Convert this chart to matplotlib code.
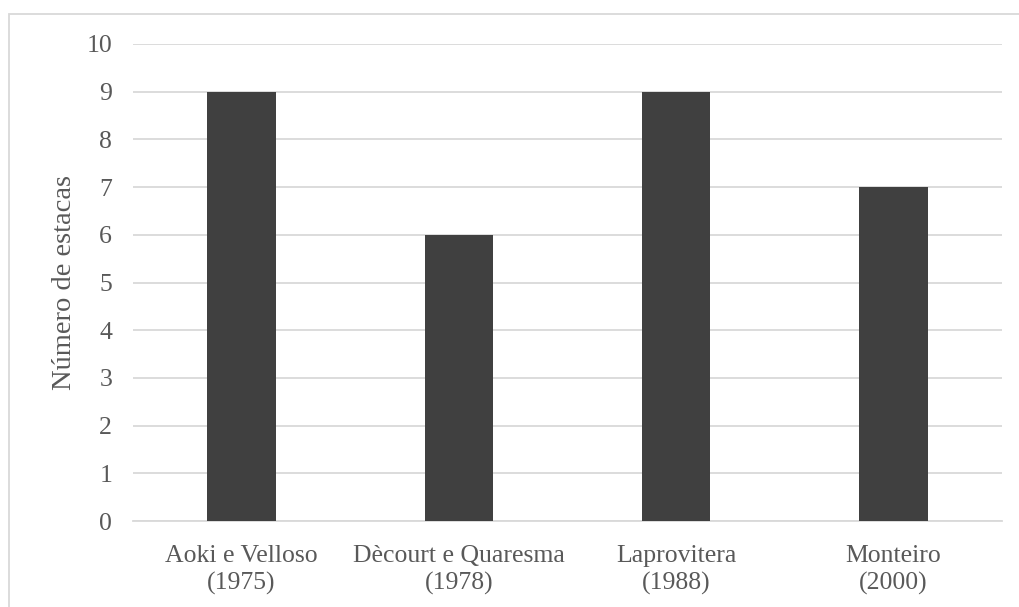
import matplotlib.pyplot as plt
from matplotlib.patches import Rectangle

metodos = ['Aoki e Velloso\n(1975)', 'Dècourt e Quaresma\n(1978)',
           'Laprovitera\n(1988)', 'Monteiro\n(2000)']
estacas = [9, 6, 9, 7]

plt.rcParams['font.family'] = ['Liberation Serif', 'DejaVu Serif']

fig = plt.figure(figsize=(10.2, 6.07), dpi=100)
ax = fig.add_axes([133 / 1020, 1 - 521 / 607, 869 / 1020, 477 / 607])

x = range(len(metodos))
ax.bar(x, estacas, width=0.315, color='#404040', zorder=3)

ax.set_xlim(-0.5, len(metodos) - 0.5)
ax.set_ylim(0, 10)
ax.set_yticks(range(0, 11))
ax.set_xticks(list(x))
ax.set_xticklabels(metodos, fontsize=18.5, color='#595959', linespacing=1.3)
ax.tick_params(axis='y', labelsize=18.5, labelcolor='#595959', length=0, pad=15)
ax.tick_params(axis='x', length=0, pad=17)
ax.set_ylabel('Número de estacas', fontsize=20.5, color='#595959', labelpad=7)

ax.grid(axis='y', color='#d9d9d9', linewidth=1.3, zorder=0)
for side in ['top', 'right', 'left']:
    ax.spines[side].set_visible(False)
ax.spines['bottom'].set_color('#d9d9d9')
ax.spines['bottom'].set_linewidth(1.3)

# outer chart frame
fig.patches.append(Rectangle((9 / 1020, -0.1), 1.2, 1 - 14 / 607 + 0.1,
                             transform=fig.transFigure, fill=False,
                             edgecolor='#d9d9d9', linewidth=1.3))

fig.savefig('out.png', dpi=100)
